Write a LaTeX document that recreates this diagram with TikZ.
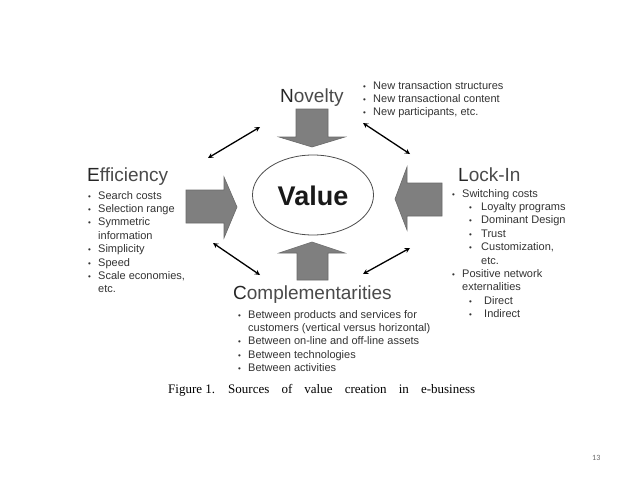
\documentclass[tikz,border=0pt]{standalone}
\usepackage{fontspec}
\usetikzlibrary{shapes.geometric}
\setmainfont{Liberation Sans}
\newfontfamily\capfont{Liberation Serif}
\newfontfamily\numfont{Carlito}
\definecolor{txt}{HTML}{333333}
\definecolor{ttl}{HTML}{4A4A4A}
\definecolor{blk}{HTML}{7F7F7F}
\definecolor{blkedge}{HTML}{6A6A6A}
\newcommand{\bul}{\makebox[10pt][l]{\footnotesize\textbullet}}
\newcommand{\subbul}{\hspace{17pt}\makebox[12pt][l]{\footnotesize\textbullet}}
\begin{document}
\begin{tikzpicture}[x=1pt,y=-1pt,
  title/.style={anchor=base west,inner sep=0,text=ttl,font=\fontsize{19}{22}\selectfont},
  blist/.style={anchor=north west,inner sep=0,align=left,text=txt,font=\fontsize{11}{13.4}\selectfont},
  blockarrow/.style={fill=blk,draw=blkedge,line width=0.6pt},
  dbl/.style={<->,>=stealth,line width=1.3pt,black}]
\useasboundingbox (0,0) rectangle (638,479);
\fill[white] (0,0) rectangle (638,479);
% center
\node[ellipse,draw=black!70,line width=0.8pt,minimum width=121pt,minimum height=80pt,inner sep=0] (val) at (313,195) {};
\node[font=\bfseries\fontsize{27}{30}\selectfont,text=black!90] (valtxt) at (313,196) {Value};
% block arrows
\draw[blockarrow] (296,109) -- (328,109) -- (328,137) -- (345,137) -- (312,147) -- (279,137) -- (296,137) -- cycle;
\draw[blockarrow] (297,280) -- (328,280) -- (328,253) -- (345,253) -- (312,242) -- (279,253) -- (297,253) -- cycle;
\draw[blockarrow] (186,190) -- (224,190) -- (224,177) -- (237,207) -- (224,238) -- (224,223) -- (186,223) -- cycle;
\draw[blockarrow] (442,183) -- (407,183) -- (407,167) -- (395,199) -- (407,230) -- (407,216) -- (442,216) -- cycle;
% double arrows
\coordinate (nw1) at (208,158); \coordinate (nw2) at (260,127);
\coordinate (ne1) at (363,123); \coordinate (ne2) at (410,154);
\coordinate (sw1) at (213,243); \coordinate (sw2) at (260,275);
\coordinate (se1) at (363,274); \coordinate (se2) at (410,248);
\draw[dbl] (nw1) -- (nw2);
\draw[dbl] (ne1) -- (ne2);
\draw[dbl] (sw1) -- (sw2);
\draw[dbl] (se1) -- (se2);
% titles
\node[title] (nov) at (280,102) {\textcolor{black!85}{N}ovelty};
\node[title] (eff) at (87,181) {\textcolor{black!85}{E}fficiency};
\node[title] (lock) at (458,181) {\textcolor{black!85}{L}ock-In};
\node[title] (comp) at (233,299) {\textcolor{black!85}{C}omplementarities};
% lists
\node[blist] (novl) at (363,81) {\bul New transaction structures\\\bul New transactional content\\\bul New participants, etc.};
\node[blist] (effl) at (88,191) {\bul Search costs\\\bul Selection range\\\bul Symmetric\\\hspace{10pt}information\\\bul Simplicity\\\bul Speed\\\bul Scale economies,\\\hspace{10pt}etc.};
\node[blist] (lockl) at (452,189) {\bul Switching costs\\\subbul Loyalty programs\\\subbul Dominant Design\\\subbul Trust\\\subbul Customization,\\\hspace{29pt}etc.\\\bul Positive network\\\hspace{10pt}externalities\\\hspace{17pt}\makebox[15pt][l]{\footnotesize\textbullet}Direct\\\hspace{17pt}\makebox[15pt][l]{\footnotesize\textbullet}Indirect};
\node[blist] (compl) at (238,310) {\bul Between products and services for\\\hspace{10pt}customers (vertical versus horizontal)\\\bul Between on-line and off-line assets\\\bul Between technologies\\\bul Between activities};
% caption
\node[anchor=base west,inner sep=0,font=\capfont\fontsize{13}{15}\selectfont] (cap1) at (168,393) {Figure 1.};
\node[anchor=base west,inner sep=0,font=\capfont\fontsize{13}{15}\selectfont] (cap2) at (228,393) {\makebox[247pt][s]{Sources of value creation in e-business}};
\node[anchor=base west,inner sep=0,font=\numfont\fontsize{8}{9}\selectfont,text=black!60] (pg) at (592,460) {13};
\end{tikzpicture}
\end{document}
